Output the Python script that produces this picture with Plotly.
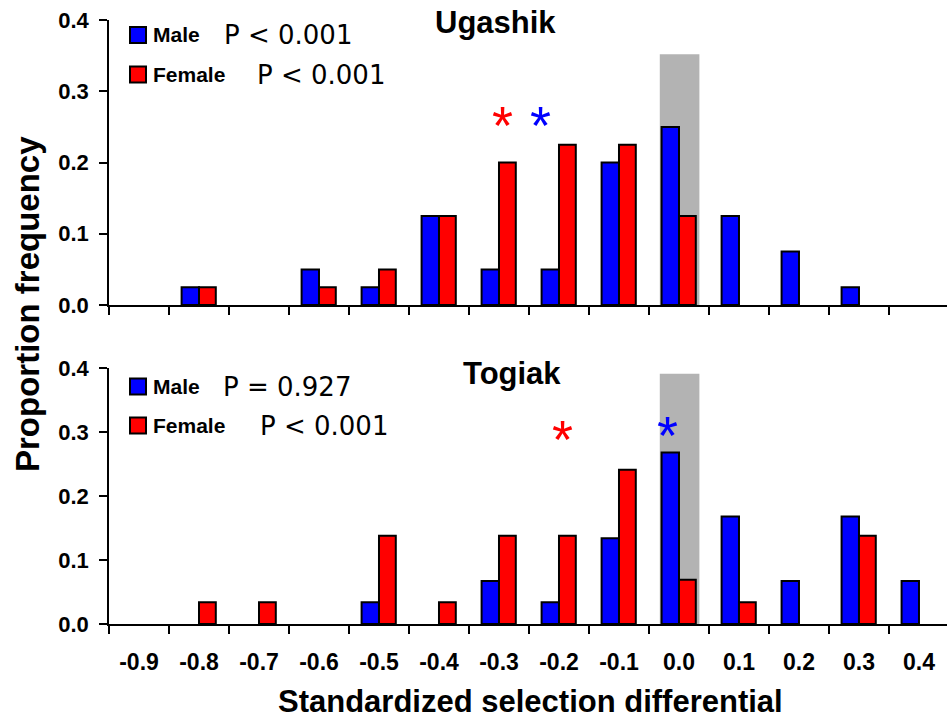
import plotly.graph_objects as go

# ---------------- data ----------------
bin_centers = [-0.9, -0.8, -0.7, -0.6, -0.5, -0.4, -0.3, -0.2, -0.1, 0.0, 0.1, 0.2, 0.3, 0.4]
tick_labels = ["-0.9", "-0.8", "-0.7", "-0.6", "-0.5", "-0.4", "-0.3", "-0.2", "-0.1",
               "0.0", "0.1", "0.2", "0.3", "0.4"]

ugashik_male = [0, 0.025, 0, 0.05, 0.025, 0.125, 0.05, 0.05, 0.2, 0.25, 0.125, 0.075, 0.025, 0]
ugashik_female = [0, 0.025, 0, 0.025, 0.05, 0.125, 0.2, 0.225, 0.225, 0.125, 0, 0, 0, 0]
togiak_male = [0, 0, 0, 0, 0.034, 0, 0.067, 0.034, 0.134, 0.268, 0.168, 0.067, 0.168, 0.067]
togiak_female = [0, 0.034, 0.034, 0, 0.138, 0.034, 0.138, 0.138, 0.241, 0.069, 0.034, 0, 0.138, 0]

sites = ["Ugashik", "Togiak"]
male_p = ["P < 0.001", "P = 0.927"]
female_p = ["P < 0.001", "P < 0.001"]

# mean selection differentials (asterisks): x, y
male_star_x = [-0.23, -0.019]
male_star_y = [0.264, 0.308]
female_star_x = [-0.294, -0.194]
female_star_y = [0.264, 0.301]

# neutral band around zero
band_x = [-0.032, 0.034]
band_top = [0.352, 0.391]

y_ticks = [0.0, 0.1, 0.2, 0.3, 0.4]

BLUE = "#0000FF"
RED = "#FF0000"
FONT = "Liberation Sans, Arial, sans-serif"

# ---------------- figure ----------------
W, H = 947, 719
ML, MR, MT, MB = 109, 0, 20, 95
PW, PH = W - ML - MR, H - MT - MB


def px(x):
    return (x - ML) / PW


def py(y):
    return (H - MB - y) / PH


def nz(vals):
    # empty bins are not drawn
    return [v if v > 0 else None for v in vals]


fig = go.Figure()

panels = [(ugashik_male, ugashik_female, "x", "y"),
          (togiak_male, togiak_female, "x2", "y2")]

for m, f, xa, ya in panels:
    fig.add_trace(go.Bar(x=bin_centers, y=nz(m), width=0.029, offset=-0.029,
                         marker=dict(color=BLUE, line=dict(color="black", width=2)),
                         xaxis=xa, yaxis=ya, showlegend=False))
    fig.add_trace(go.Bar(x=bin_centers, y=nz(f), width=0.028, offset=0,
                         marker=dict(color=RED, line=dict(color="black", width=2)),
                         xaxis=xa, yaxis=ya, showlegend=False))

boundaries = [c - 0.05 for c in bin_centers]
x_range = [bin_centers[0] - 0.05, bin_centers[-1] + 0.0467]

xcommon = dict(range=x_range, showline=True, linecolor="black", linewidth=1.5,
               showgrid=False, zeroline=False, ticks="",
               tickvals=bin_centers, ticktext=tick_labels,
               minor=dict(tickvals=boundaries, ticks="outside", ticklen=8,
                          tickcolor="black", tickwidth=1.5, showgrid=False),
               tickfont=dict(family=FONT, size=23, color="black", weight="bold"))
ycommon = dict(range=[0, 0.4], showline=True, linecolor="black", linewidth=1.5,
               showgrid=False, zeroline=False, ticks="outside", ticklen=8,
               tickcolor="black", tickwidth=1.5, tickvals=y_ticks, tickformat=".1f",
               ticklabelstandoff=6,
               tickfont=dict(family=FONT, size=22, color="black", weight="bold"))

fig.update_layout(
    width=W, height=H,
    margin=dict(l=ML, r=MR, t=MT, b=MB, pad=0),
    paper_bgcolor="white", plot_bgcolor="white",
    barmode="overlay",
    xaxis=dict(xcommon, anchor="y", showticklabels=False),
    yaxis=dict(ycommon, anchor="x", domain=[py(305), 1.0]),
    xaxis2=dict(xcommon, anchor="y2", showticklabels=True, ticklabelstandoff=17),
    yaxis2=dict(ycommon, anchor="x2", domain=[0.0, py(368)]),
)

# neutral band
for i, (xr, yr) in enumerate([("x", "y"), ("x2", "y2")]):
    fig.add_shape(type="rect", xref=xr, yref=yr, x0=band_x[0], x1=band_x[1],
                  y0=0, y1=band_top[i], fillcolor="#b3b3b3", line=dict(width=0),
                  layer="below")

# asterisks
for i, (xr, yr) in enumerate([("x", "y"), ("x2", "y2")]):
    fig.add_annotation(x=female_star_x[i], y=female_star_y[i], xref=xr, yref=yr,
                       text="*", showarrow=False, yshift=-8,
                       font=dict(family=FONT, size=54, color=RED))
    fig.add_annotation(x=male_star_x[i], y=male_star_y[i], xref=xr, yref=yr,
                       text="*", showarrow=False, yshift=-8,
                       font=dict(family=FONT, size=54, color=BLUE))

# panel titles and legends
title_pos = [(495, 22), (512, 373)]
male_row_y = [35, 386.5]
female_row_y = [74.5, 425.5]
male_p_x = [222, 221]
female_p_x = [255, 258]

for i in range(2):
    tx, ty = title_pos[i]
    fig.add_annotation(x=px(tx), y=py(ty), xref="paper", yref="paper", text=sites[i],
                       showarrow=False, xanchor="center", yanchor="middle",
                       font=dict(family=FONT, size=31, color="black", weight="bold"))
    for ry, col, lab, ptxt, ptx in [(male_row_y[i], BLUE, "Male", male_p[i], male_p_x[i]),
                                   (female_row_y[i], RED, "Female", female_p[i], female_p_x[i])]:
        fig.add_shape(type="rect", xref="paper", yref="paper",
                      x0=px(130), x1=px(146), y0=py(ry + 8), y1=py(ry - 8),
                      fillcolor=col, line=dict(color="black", width=2))
        fig.add_annotation(x=px(151), y=py(ry), xref="paper", yref="paper", text=lab,
                           showarrow=False, xanchor="left", yanchor="middle",
                           font=dict(family=FONT, size=21, color="black", weight="bold"))
        fig.add_annotation(x=px(ptx), y=py(ry), xref="paper", yref="paper", text=ptxt,
                           showarrow=False, xanchor="left", yanchor="middle",
                           font=dict(family="DejaVu Sans", size=26, color="black"))

# axis titles
fig.add_annotation(x=px(27), y=py(304), xref="paper", yref="paper",
                   text="Proportion frequency", textangle=-90, showarrow=False,
                   xanchor="center", yanchor="middle",
                   font=dict(family=FONT, size=33, color="black", weight="bold"))
fig.add_annotation(x=px(530), y=py(702), xref="paper", yref="paper",
                   text="Standardized selection differential", showarrow=False,
                   xanchor="center", yanchor="middle",
                   font=dict(family=FONT, size=31, color="black", weight="bold"))

fig.write_html("out.html", config={"displayModeBar": False},
               post_script="document.body.style.margin='0';")
